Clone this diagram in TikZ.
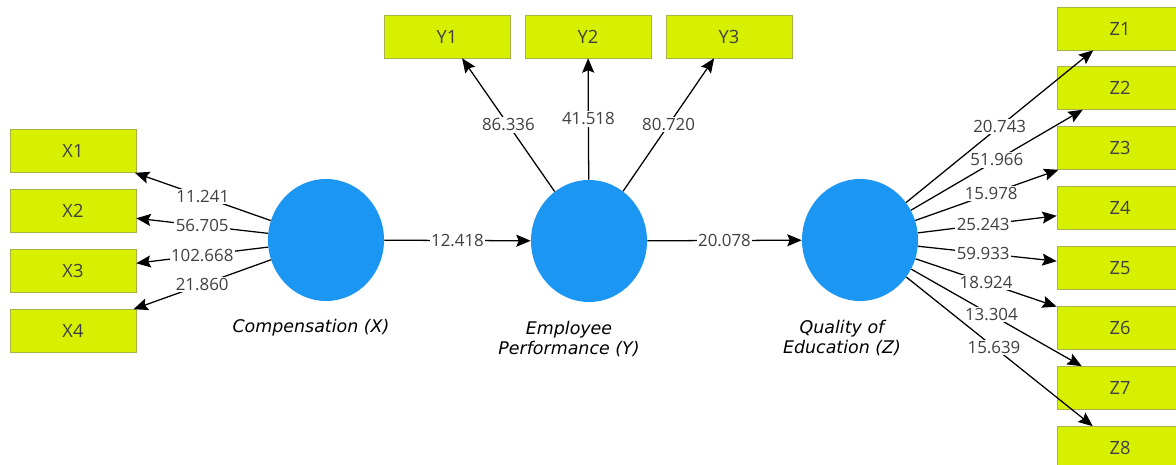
\documentclass[tikz,border=0pt]{standalone}
\usepackage{fontspec}
\setmainfont{Open Sans}
\newfontfamily\latentfont{DejaVu Sans}
\usetikzlibrary{shapes.geometric,arrows.meta}

\definecolor{boxgreen}{RGB}{214,240,0}
\definecolor{boxedge}{RGB}{168,178,70}
\definecolor{lvblue}{RGB}{27,150,243}
\definecolor{numgray}{RGB}{64,64,64}

\tikzstyle{indicator}=[rectangle,
    minimum width=3.15cm,
    minimum height=1.075cm,
    draw=boxedge,
    fill=boxgreen,
    text=numgray,
    font=\fontsize{13}{15}\selectfont]
\tikzstyle{latent}=[ellipse,
    minimum width=2.9cm,
    minimum height=3.05cm,
    inner sep=0pt,
    fill=lvblue]
\tikzstyle{weight}=[fill=white, inner sep=1pt, text=numgray, font=\fontsize{12}{14}\selectfont]
\tikzstyle{caption}=[align=center, font=\latentfont\itshape\fontsize{12.4}{13.6}\selectfont]
\tikzstyle{link}=[line width=0.9pt, -{Stealth[length=3.6mm,width=3mm,inset=0.6mm]}]

\begin{document}
\begin{tikzpicture}[x=0.025cm, y=-0.025cm]
    \useasboundingbox[fill=white] (0,0) rectangle (1176,465);

    % constructs
    \node (X) [latent] at (326,240) {};
    \node (Y) [latent] at (589,241) {};
    \node (Z) [latent] at (860,240) {};
    \node (capX) [caption] at (311,328) {Compensation (X)};
    \node (capY) [caption] at (569,339) {Employee\\Performance (Y)};
    \node (capZ) [caption] at (842,338) {Quality of\\Education (Z)};

    % indicators
    \node (X1) [indicator] at (73,151) {X1};
    \node (X2) [indicator] at (73,211) {X2};
    \node (X3) [indicator] at (73,271) {X3};
    \node (X4) [indicator] at (73,331) {X4};
    \node (Y1) [indicator] at (447,36.5) {Y1};
    \node (Y2) [indicator] at (588,36.5) {Y2};
    \node (Y3) [indicator] at (729,36.5) {Y3};
    \node (Z1) [indicator] at (1120,28.5) {Z1};
    \node (Z2) [indicator] at (1120,88) {Z2};
    \node (Z3) [indicator] at (1120,148) {Z3};
    \node (Z4) [indicator] at (1120,208) {Z4};
    \node (Z5) [indicator] at (1120,268) {Z5};
    \node (Z6) [indicator] at (1120,328) {Z6};
    \node (Z7) [indicator] at (1120,388) {Z7};
    \node (Z8) [indicator] at (1120,448) {Z8};

    % outer weights
    \draw [link] (X) -- node[weight] {11.241} (X1);
    \draw [link] (X) -- node[weight] {56.705} (X2);
    \draw [link] (X) -- node[weight] {102.668} (X3);
    \draw [link] (X) -- node[weight] {21.860} (X4);
    \draw [link] (Y) -- node[weight] {86.336} (Y1);
    \draw [link] (Y) -- node[weight] {41.518} (Y2);
    \draw [link] (Y) -- node[weight] {80.720} (Y3);
    \draw [link] (Z) -- node[weight] {20.743} (Z1);
    \draw [link] (Z) -- node[weight] {51.966} (Z2);
    \draw [link] (Z) -- node[weight, pos=0.53] {15.978} (Z3);
    \draw [link] (Z) -- node[weight, pos=0.47] {25.243} (Z4);
    \draw [link] (Z) -- node[weight, pos=0.47] {59.933} (Z5);
    \draw [link] (Z) -- node[weight] {18.924} (Z6);
    \draw [link] (Z) -- node[weight, pos=0.47] {13.304} (Z7);
    \draw [link] (Z) -- node[weight, pos=0.47] {15.639} (Z8);

    % inner model
    \draw [link] (X) -- node[weight] {12.418} (Y);
    \draw [link] (Y) -- node[weight] {20.078} (Z);
\end{tikzpicture}
\end{document}
